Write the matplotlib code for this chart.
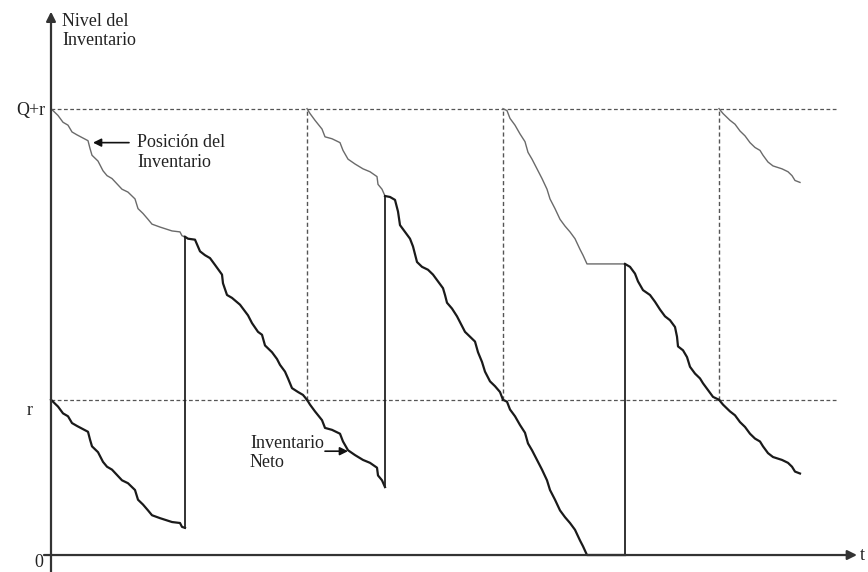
import matplotlib.pyplot as plt
import numpy as np

# Sistema de revision continua (Q, r): posicion del inventario vs inventario neto
Q = 30.0
r = 16.0

# periodos con pedido pendiente: inventario neto (posicion = neto + Q)
seg_a_t = [0.0, 0.7, 1.2, 1.7, 2.1, 2.6, 3.7, 3.9, 4.1, 4.7, 5.2, 5.6, 6.1, 7.1, 7.7, 8.4, 8.7, 9.2, 9.7, 10.1, 10.9, 12.1, 12.9, 13.1, 13.4]
seg_a_net = [16.0, 15.3, 14.6, 14.3, 13.6, 13.3, 12.7, 11.9, 11.2, 10.6, 9.6, 9.1, 8.8, 7.7, 7.4, 6.7, 5.7, 5.2, 4.6, 4.1, 3.8, 3.4, 3.3, 2.9, 2.8]

seg_c_t = [25.6, 25.9, 26.4, 27.1, 27.4, 28.1, 28.9, 29.2, 29.7, 30.4, 31.2, 31.9, 32.6, 32.7, 33.1, 33.4]
seg_c_net = [16.0, 15.5, 14.8, 13.9, 13.1, 12.9, 12.5, 11.7, 10.8, 10.3, 9.8, 9.5, 9.0, 8.2, 7.7, 7.0]

seg_e_t = [45.2, 45.6, 45.9, 46.4, 46.9, 47.4, 47.7, 48.1, 48.6, 49.1, 49.6, 49.9, 50.4, 50.9, 51.4, 51.9, 52.4, 52.9, 53.2, 53.6, 57.4]
seg_e_net = [16.0, 15.8, 15.0, 14.3, 13.4, 12.6, 11.5, 10.8, 9.8, 8.8, 7.7, 6.7, 5.7, 4.6, 3.9, 3.3, 2.6, 1.5, 0.9, 0.0, 0.0]

seg_g_t = [66.8, 67.2, 67.9, 68.4, 68.9, 69.4, 69.9, 70.4, 70.9, 71.2, 71.7, 72.2, 73.1, 73.7, 74.1, 74.4, 74.9]
seg_g_net = [16.0, 15.5, 14.8, 14.4, 13.7, 13.2, 12.5, 12.0, 11.7, 11.2, 10.5, 10.1, 9.8, 9.5, 9.1, 8.6, 8.4]

# periodos sin pedido pendiente: posicion == inventario neto
seg_b_t = [13.4, 13.7, 14.4, 14.9, 15.4, 15.9, 16.4, 17.1, 17.2, 17.6, 18.1, 18.9, 19.7, 20.1, 20.7, 21.1, 21.4, 22.1, 22.6, 22.9, 23.4, 23.7, 24.1, 24.7, 25.2, 25.6]
seg_b_lvl = [32.8, 32.6, 32.5, 31.3, 30.9, 30.6, 29.9, 28.9, 28.0, 26.8, 26.5, 25.8, 24.7, 23.9, 23.0, 22.7, 21.6, 20.9, 20.2, 19.6, 18.9, 18.2, 17.2, 16.8, 16.5, 16.0]

seg_d_t = [33.4, 33.9, 34.4, 34.7, 34.9, 35.4, 35.9, 36.2, 36.6, 37.1, 37.7, 38.2, 38.7, 39.2, 39.4, 39.6, 40.1, 40.6, 40.9, 41.4, 41.9, 42.4, 42.7, 43.1, 43.4, 43.9, 44.4, 44.9, 45.2]
seg_d_lvl = [37.0, 36.9, 36.6, 35.4, 34.0, 33.3, 32.6, 31.8, 30.2, 29.7, 29.4, 28.9, 28.2, 27.5, 26.8, 26.0, 25.4, 24.6, 24.0, 23.0, 22.5, 22.0, 20.9, 19.9, 18.9, 17.9, 17.4, 16.8, 16.0]

seg_f_t = [57.4, 57.9, 58.4, 58.7, 59.2, 59.9, 60.4, 60.9, 61.4, 61.9, 62.4, 62.6, 62.7, 63.2, 63.6, 63.9, 64.4, 64.9, 65.2, 65.7, 66.2, 66.8]
seg_f_lvl = [30.0, 29.7, 29.0, 28.2, 27.3, 26.8, 26.1, 25.3, 24.6, 24.2, 23.5, 22.5, 21.5, 21.1, 20.4, 19.4, 18.7, 18.2, 17.7, 17.0, 16.3, 16.0]

t_end = 78.7  # fin de las lineas punteadas

FONT = 'Liberation Serif'
NET_COLOR = '#1a1a1a'
POS_COLOR = '#6a6a6a'
DASH_COLOR = '#555555'


def main():
    fig = plt.figure(figsize=(8.68, 5.72), dpi=100)
    ax = fig.add_axes([0, 0, 1, 1])
    ax.set_xlim(-5.1, 81.7)
    ax.set_ylim(-1.75, 57.2)
    ax.axis('off')

    # lineas de referencia r y Q+r
    ax.plot([0, t_end], [r, r], color=DASH_COLOR, lw=0.9, dashes=(3, 2))
    ax.plot([0, t_end], [Q + r, Q + r], color=DASH_COLOR, lw=0.9, dashes=(3, 2))

    lead = [(seg_a_t, seg_a_net), (seg_c_t, seg_c_net), (seg_e_t, seg_e_net), (seg_g_t, seg_g_net)]
    free = [(seg_b_t, seg_b_lvl), (seg_d_t, seg_d_lvl), (seg_f_t, seg_f_lvl)]

    for i, (tt, net) in enumerate(lead):
        net = np.asarray(net)
        ax.plot(tt, net, color=NET_COLOR, lw=1.6, solid_joinstyle='round')
        ax.plot(tt, net + Q, color=POS_COLOR, lw=1.0)
        # pedido colocado: la posicion salta de r a Q+r
        if i > 0:
            ax.plot([tt[0], tt[0]], [r, r + Q], color=DASH_COLOR, lw=1.0, dashes=(3, 2))
        # llegada del pedido: el neto sube Q
        if i < len(lead) - 1:
            ax.plot([tt[-1], tt[-1]], [net[-1], net[-1] + Q], color='#222222', lw=1.3)

    for tt, lvl in free:
        ax.plot(tt, lvl, color=NET_COLOR, lw=1.6, solid_joinstyle='round')

    # ejes con flecha
    ax.annotate('', xy=(80.6, 0), xytext=(-0.7, 0),
                arrowprops=dict(arrowstyle='-|>', color='#333333', lw=1.6, mutation_scale=14, shrinkA=0, shrinkB=0))
    ax.annotate('', xy=(0, 56.0), xytext=(0, -1.75),
                arrowprops=dict(arrowstyle='-|>', color='#333333', lw=1.6, mutation_scale=14, shrinkA=0, shrinkB=0))

    tk = dict(family=FONT, fontsize=13, color='#222222')
    ax.text(1.1, 55.9, 'Nivel del\nInventario', ha='left', va='top', **tk)
    ax.text(-0.6, Q + r - 0.7, 'Q+r', ha='right', va='baseline', **tk)
    ax.text(-1.8, r - 1.6, 'r', ha='right', va='baseline', **tk)
    ax.text(-0.8, -1.65, '0', ha='right', va='bottom', **tk)
    ax.text(80.9, 0, 't', ha='left', va='center', **tk)

    # etiquetas con flecha
    ax.text(8.6, 43.4, 'Posición del\nInventario', ha='left', va='top', **tk)
    ax.annotate('', xy=(4.2, 42.5), xytext=(7.8, 42.5),
                arrowprops=dict(arrowstyle='-|>', color='#111111', lw=1.2, mutation_scale=12, shrinkA=0, shrinkB=0))
    ax.text(19.9, 12.4, 'Inventario\nNeto', ha='left', va='top', **tk)
    ax.annotate('', xy=(29.7, 10.7), xytext=(27.4, 10.7),
                arrowprops=dict(arrowstyle='-|>', color='#111111', lw=1.2, mutation_scale=12, shrinkA=0, shrinkB=0))

    fig.savefig('out.png', dpi=100)


if __name__ == "__main__":
    main()
